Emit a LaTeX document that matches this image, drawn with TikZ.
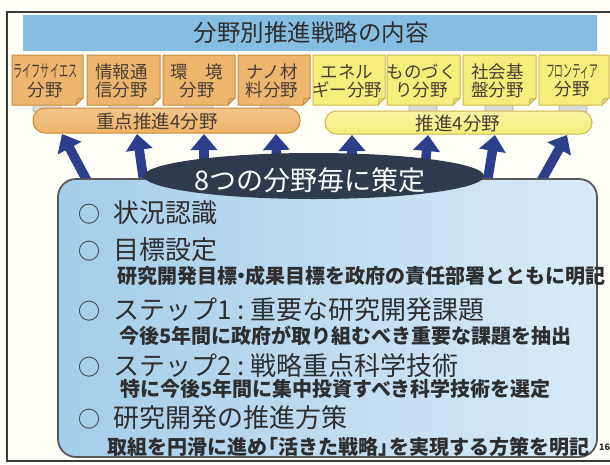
\documentclass[tikz,border=0pt]{standalone}
\usepackage{fontspec}
\usepackage{graphicx}
\setmainfont{Noto Sans CJK JP}
\usetikzlibrary{arrows.meta,shapes.geometric,shadings}
\definecolor{frameC}{HTML}{3A3A3A}
\definecolor{orFill}{HTML}{EDB66E}
\definecolor{orLine}{HTML}{C98A3C}
\definecolor{yeFill}{HTML}{F6EE7C}
\definecolor{yeLine}{HTML}{CDB84A}
\definecolor{boxText}{HTML}{4A3E34}
\definecolor{navy}{HTML}{2C3E8C}
\definecolor{ellC}{HTML}{2F3A4C}
\definecolor{skyA}{HTML}{86BEE3}
\definecolor{skyB}{HTML}{A3CDEA}
\definecolor{txt}{HTML}{2E2E2E}
\tikzset{
  boxtxt/.style={align=center, text=boxText, inner sep=0pt,
    font=\fontsize{17.5}{18.5}\selectfont},
  bandtxt/.style={text=boxText, inner sep=0pt, font=\fontsize{18.5}{20}\selectfont},
  arr/.style={draw=navy, line width=9.5pt, -{Triangle[width=26pt,length=16pt]}},
  itemc/.style={text=txt, inner sep=0pt, font=\fontsize{22}{24}\selectfont},
  item/.style={text=txt, inner sep=0pt, anchor=west, font=\fontsize{26}{28}\selectfont},
  sub/.style={text=txt, inner sep=0pt, anchor=west, font=\bfseries\fontsize{20}{22}\selectfont},
  foot/.style={fill=gray!30, draw=gray!65, line width=0.8pt, rounded corners=2pt}
}
\begin{document}
\begin{tikzpicture}[x=1pt,y=-1pt]
\path[use as bounding box, fill=white!97!yellow] (0,0) rectangle (610,464);
% outer frame
\draw[frameC, line width=2pt] (7,12) rectangle (616,461);
% title band
\shade[top color=skyA, middle color=white!88!skyA, bottom color=skyA] (23,15) rectangle (597,50);
\node[text=txt, inner sep=0pt, font=\fontsize{23.5}{26}\selectfont] (title) at (311,33) {分野別推進戦略の内容};
% feet under boxes
\foreach \cx in {47,123,199,274,423,499,573}{
  \path[foot] (\cx-14,103) rectangle (\cx+14,112);
}
% field boxes
\foreach \xa/\xb/\fc/\lc/\nm/\la/\lb in {
  12/83/orFill/orLine/f1/{\scalebox{0.52}[1]{ライフサイエス}}/{分野},
  87/160/orFill/orLine/f2/{情報通}/{信分野},
  163/235/orFill/orLine/f3/{環　境}/{分野},
  238/310/orFill/orLine/f4/{ナノ材}/{料分野},
  313/385/yeFill/yeLine/f5/{エネル}/{ギー分野},
  387/460/yeFill/yeLine/f6/{ものづく}/{り分野},
  463/536/yeFill/yeLine/f7/{社会基}/{盤分野},
  539/609/yeFill/yeLine/f8/{\scalebox{0.5}[1]{フロンティア}}/{分野}}{
  \filldraw[fill=\fc, draw=\lc, line width=1pt] (\xa,55) -- (\xb,55) -- (\xb,98) -- (\xb-7,105) -- (\xa,105) -- cycle;
  \filldraw[fill=\lc!60!white, draw=\lc, line width=0.8pt] (\xb,98) -- (\xb-6,99) -- (\xb-7,105) -- cycle;
  \node[boxtxt] (\nm) at ({(\xa+\xb)/2-2},81) {\la\\\lb};
}
% bands
\shadedraw[top color=orFill!80!white, bottom color=orFill!95!orange, draw=orLine, line width=1pt, rounded corners=12pt] (33,108) rectangle (300,133);
\node[bandtxt] (b1) at (157,121) {重点推進4分野};
\shadedraw[top color=yeFill!70!white, bottom color=yeFill, draw=yeLine, line width=1pt, rounded corners=11.5pt] (325,111) rectangle (592,134);
\node[bandtxt] (b2) at (458,123) {推進4分野};
% arrows
\coordinate (t1) at (92,190); \coordinate (h1) at (62,134);
\coordinate (t2) at (145,190); \coordinate (h2) at (137,134);
\coordinate (t3) at (204,185); \coordinate (h3) at (204,134);
\coordinate (t4) at (277,180); \coordinate (h4) at (276,134);
\coordinate (t5) at (352,180); \coordinate (h5) at (352,135);
\coordinate (t6) at (424,180); \coordinate (h6) at (428,135);
\coordinate (t7) at (486,190); \coordinate (h7) at (495,135);
\coordinate (t8) at (536,190); \coordinate (h8) at (567,135);
\foreach \i in {1,...,8}{ \draw[arr] (t\i) -- (h\i); }
% panel
\shadedraw[left color=skyB, middle color=white!95!skyB, right color=skyB!40!white, draw=frameC!85, line width=1.8pt, rounded corners=18pt] (58,179) rectangle (597,457);
% ellipse
\node[ellipse, fill=ellC, inner sep=0pt, minimum width=340pt, minimum height=46pt] (ell) at (314,176) {};
\node[text=white, inner sep=0pt, font=\fontsize{27}{29}\selectfont] (ellt) at (310,180) {8つの分野毎に策定};
% items
\node[itemc] (c1) at (89,214) {○};
\node[item] (i1) at (113,213) {状況認識};
\node[itemc] (c2) at (89,251) {○};
\node[item] (i2) at (113,250) {目標設定};
\node[sub] (s2) at (117,276) {研究開発目標\kern-6pt・\kern-6pt 成果目標を政府の責任部署とともに明記};
\node[itemc] (c3) at (89,311) {○};
\node[item] (i3) at (113,310) {ステップ1\kern6pt:\kern6pt 重要な研究開発課題};
\node[sub] (s3) at (119,336) {今後5年間に政府が取り組むべき重要な課題を抽出};
\node[itemc] (c4) at (89,367) {○};
\node[item] (i4) at (113,366) {ステップ2\kern6pt:\kern6pt 戦略重点科学技術};
\node[sub] (s4) at (120,389) {特に今後5年間に集中投資すべき科学技術を選定};
\node[itemc] (c5) at (89,419) {○};
\node[item] (i5) at (113,418) {研究開発の推進方策};
\node[sub] (s5) at (107,447) {取組を円滑に進め\kern-9pt「活きた戦略」\kern-9pt を実現する方策を明記};
\node[text=txt, inner sep=0pt, anchor=west, font=\bfseries\fontsize{9}{10}\selectfont] (pg) at (599,447) {16};
\end{tikzpicture}
\end{document}
